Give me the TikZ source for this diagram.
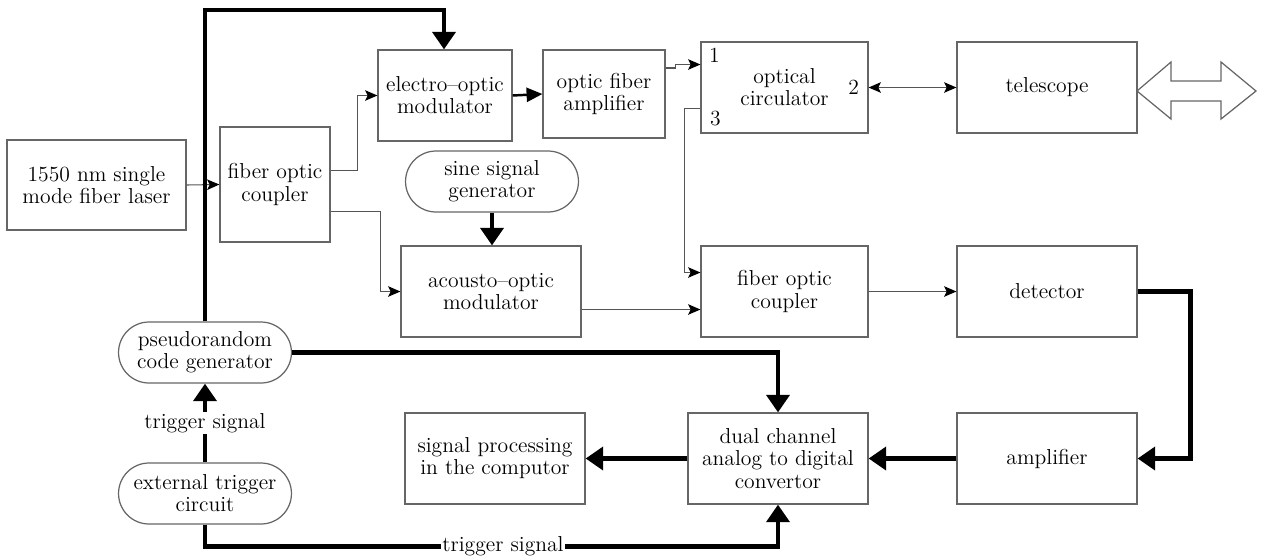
\documentclass[tikz,border=0pt]{standalone}
\usepackage{amsmath}
\usepackage{xcolor}
\usepackage{tikz}
\usetikzlibrary{arrows.meta,calc,shapes.misc}

\definecolor{boxgray}{HTML}{666666}
\definecolor{linegray}{HTML}{555555}

\tikzset{
  box/.style={draw=boxgray,line width=0.7pt,align=center,minimum width=3.6cm,minimum height=1.82cm,inner sep=2pt},
  gen/.style={rounded rectangle,draw=boxgray,line width=0.7pt,align=center,minimum width=3.6cm,minimum height=1.22cm,inner sep=2pt},
  fibre/.style={draw=linegray,line width=0.6pt,-{Stealth[length=7pt,width=6pt,inset=1.5pt,color=black]}},
  signal/.style={line width=2.8pt,-{Triangle[length=10pt,width=13pt]}},
}

\begin{document}
\begin{tikzpicture}[x=0.02cm,y=-0.02cm,font=\fontsize{12.3}{12.6}\selectfont]
    \useasboundingbox (0,0) rectangle (1269,559);

    % Optical part
    \node[box,minimum width=3.58cm,minimum height=1.8cm] (laser) at (96.5,185) {1550 nm single\\mode fiber laser};
    \node[box,minimum width=2.2cm,minimum height=2.3cm] (cpl1) at (275,184.5) {fiber optic\\coupler};
    \node[box,minimum width=2.68cm] (eom) at (445,95.5) {electro--optic\\modulator};
    \node[box,minimum width=2.44cm,minimum height=1.76cm] (ofa) at (604,94) {optic fiber\\amplifier};
    \node[box,minimum width=3.34cm] (circ) at (784.5,87.5) {optical\\circulator};
    \node (port1) at ($(circ.north west)+(14,14)$) {1};
    \node (port2) at ($(circ.east)+(-15,0)$) {2};
    \node (port3) at ($(circ.south west)+(15,-15)$) {3};
    \node[box] (tel) at (1047,87.5) {telescope};
    \node[gen] (sine) at (492,181.5) {sine signal\\generator};
    \node[box] (aom) at (491,291.5) {acousto--optic\\modulator};
    \node[box,minimum width=3.34cm] (cpl2) at (784.5,291.5) {fiber optic\\coupler};
    \node[box] (det) at (1047,291.5) {detector};

    % Electrical part
    \node[box] (amp) at (1047,458.5) {amplifier};
    \node[box] (adc) at (778,458.5) {dual channel\\analog to digital\\convertor};
    \node[box] (proc) at (495,458.5) {signal processing\\in the computor};
    \node[gen] (prng) at (205,352.5) {pseudorandom\\code generator};
    \node[gen] (trig) at (205,493.5) {external trigger\\circuit};

    % beam to and from the target
    \draw[boxgray,line width=0.7pt,fill=white] (1137,91) -- (1171,62) -- (1171,81) -- (1221,81) -- (1221,62)
        -- (1256,91) -- (1221,119) -- (1221,101) -- (1171,101) -- (1171,119) -- cycle;

    % Fiber connections
    \draw[fibre] (laser.east) -- (cpl1.west);
    \draw[fibre] ($(cpl1.east)+(0,-14)$) -- ++(27,0) |- (eom.west);
    \draw[fibre] ($(cpl1.east)+(0,27)$) -- ++(50,0) |- (aom.west);
    \draw[draw=black,line width=1.4pt,-{Triangle[length=9pt,width=8pt]}] (eom.east) -- (ofa.west);
    \draw[fibre] ($(ofa.east)+(0,-26)$) -- ++(10,0) |- ($(circ.west)+(0,-23)$);
    \draw[fibre] ($(circ.west)+(0,21)$) -- ++(-16,0) |- ($(cpl2.west)+(0,-19)$);
    \draw[fibre] ($(aom.east)+(0,18)$) -- ($(cpl2.west)+(0,18)$);
    \draw[fibre,{Stealth[length=7pt,width=6pt,inset=1.5pt,color=black]}-{Stealth[length=7pt,width=6pt,inset=1.5pt,color=black]}] (circ.east) -- (tel.west);
    \draw[fibre] (cpl2.east) -- (det.west);

    % Signal lines
    \draw[signal] (prng.north) |- (444,10) -- ($(eom.north)+(-1,0)$);
    \draw[signal] (sine.south) -- (sine.south |- aom.north);
    \draw[signal] (det.east) -- ++(53,0) |- (amp.east);
    \draw[signal] (amp.west) -- (adc.east);
    \draw[signal] (adc.west) -- (proc.east);
    \draw[signal] (prng.east) -| (adc.north);
    \draw[signal] (trig.north) -- node[fill=white,inner sep=1pt] (lbl1) {trigger signal} (prng.south);
    \draw[signal] (trig.south) -- ++(0,22) -- node[pos=0.52,fill=white,inner sep=1pt] (lbl2) {trigger signal} ++(573,0) -- (adc.south);
\end{tikzpicture}
\end{document}
